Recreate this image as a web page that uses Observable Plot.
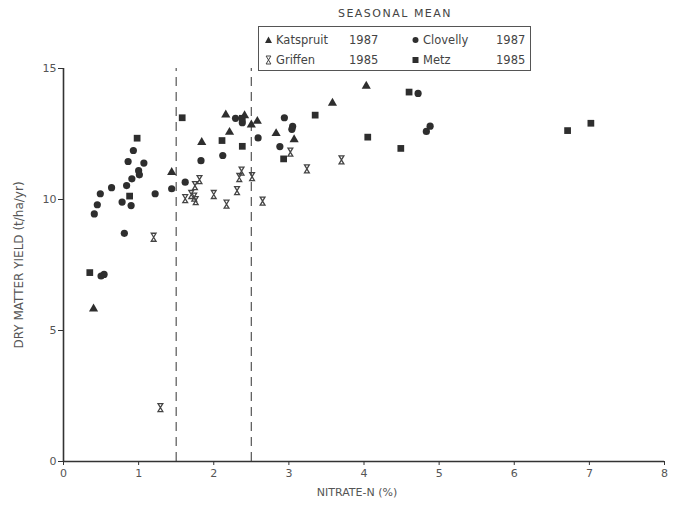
<!DOCTYPE html>
<html>
<head>
<meta charset="utf-8">
<script src="https://cdn.jsdelivr.net/npm/d3@7"></script>
<script src="https://cdn.jsdelivr.net/npm/@observablehq/plot@0.6"></script>
<style>
  html, body { margin: 0; padding: 0; background: #fff; }
  #wrap { position: relative; width: 678px; height: 509px; font-family: "DejaVu Sans", sans-serif; color: #333; }
  #title { position: absolute; left: 258px; width: 274px; top: 7px; text-align: center; font-size: 11px; letter-spacing: 1.5px; color: #444; }
  #legend { position: absolute; left: 258px; top: 26px; width: 271px; height: 43px; border: 1.3px solid #555; background: #fff; font-size: 11.5px; color: #444; }
  .item { position: absolute; display: flex; align-items: center; gap: 3px; white-space: nowrap; }
  .item svg { display: block; }
</style>
</head>
<body>
<div id="wrap">
  <div id="chart"></div>
  <div id="title">SEASONAL MEAN</div>
  <div id="legend"></div>
</div>
<script>
// ---- data ----
const katspruitX = [0.40, 1.44, 1.84, 2.16, 2.21, 2.41, 2.50, 2.58, 2.83, 3.07, 3.58, 4.03];
const katspruitY = [5.83, 11.04, 12.18, 13.23, 12.57, 13.20, 12.85, 12.99, 12.52, 12.29, 13.68, 14.33];

const clovellyX = [0.93, 0.86, 1.07, 1.00, 1.01, 0.91, 0.84, 0.64, 0.49, 1.22, 0.45, 0.78, 0.90, 0.41, 0.81, 0.50, 0.54, 1.62, 1.44, 1.83, 2.12, 2.29, 2.38, 2.59, 2.94, 3.05, 3.04, 2.88, 4.83, 4.88, 4.72];
const clovellyY = [11.87, 11.45, 11.39, 11.10, 10.94, 10.79, 10.53, 10.45, 10.22, 10.22, 9.80, 9.90, 9.77, 9.45, 8.71, 7.08, 7.14, 10.66, 10.41, 11.48, 11.68, 13.10, 12.93, 12.35, 13.12, 12.79, 12.68, 12.02, 12.60, 12.80, 14.05];

const griffenX = [1.20, 1.29, 1.62, 1.70, 1.74, 1.76, 1.75, 1.81, 2.00, 2.17, 2.31, 2.34, 2.37, 2.51, 2.65, 3.02, 3.24, 3.70];
const griffenY = [8.56, 2.06, 10.03, 10.19, 10.09, 9.96, 10.53, 10.76, 10.19, 9.82, 10.34, 10.84, 11.08, 10.87, 9.94, 11.81, 11.17, 11.51];

const metzX = [0.35, 0.98, 0.88, 1.58, 2.11, 2.38, 2.38, 2.93, 3.35, 4.05, 4.49, 4.60, 6.71, 7.02];
const metzY = [7.21, 12.34, 10.13, 13.12, 12.25, 12.03, 13.10, 11.55, 13.22, 12.38, 11.95, 14.10, 12.63, 12.91];

const thresholds = [1.5, 2.5];
const xTicks = [0, 1, 2, 3, 4, 5, 6, 7, 8];
const yTicks = [0, 5, 10, 15];
const legendLabels = [["Katspruit", "1987"], ["Clovelly", "1987"], ["Griffen", "1985"], ["Metz", "1985"]];

// ---- build table ----
const zip = (xs, ys, s) => xs.map((x, i) => ({x, y: ys[i], s}));
const pts = [
  ...zip(katspruitX, katspruitY, "Katspruit"),
  ...zip(clovellyX, clovellyY, "Clovelly"),
  ...zip(griffenX, griffenY, "Griffen"),
  ...zip(metzX, metzY, "Metz")
];

const hourglass = {
  draw(ctx, size) {
    const r = Math.sqrt(size / Math.PI);
    const w = r * 0.6, h = r;
    ctx.moveTo(-w, -h); ctx.lineTo(w, -h); ctx.lineTo(-w, h); ctx.lineTo(w, h); ctx.closePath();
  }
};

const ink = "#2e2e2e";
const chart = Plot.plot({
  width: 678, height: 509,
  marginLeft: 63, marginRight: 14, marginTop: 68, marginBottom: 48,
  style: {fontFamily: "DejaVu Sans, sans-serif", fontSize: "11px", color: "#555", background: "#fff"},
  x: {domain: [0, 8]},
  y: {domain: [0, 15]},
  marks: [
    Plot.ruleX(thresholds, {y1: 0, y2: 15, stroke: "#555", strokeWidth: 1.2, strokeDasharray: "9,6"}),
    Plot.ruleY([0], {x1: 0, x2: 8, stroke: "#333", strokeWidth: 1.6}),
    Plot.ruleX([0], {y1: 0, y2: 15, stroke: "#333", strokeWidth: 1.6}),
    Plot.axisX({ticks: xTicks, tickSize: 4, tickPadding: 4, tickFormat: d3.format("d"), label: null, stroke: "#333"}),
    Plot.axisY({ticks: yTicks, tickSize: 5, tickPadding: 2, tickFormat: d3.format("d"), label: null, stroke: "#333"}),
    Plot.text(["NITRATE-N (%)"], {frameAnchor: "bottom", dy: 34, dx: -7, fontSize: 11, fill: "#555", letterSpacing: 0.5}),
    Plot.text(["DRY MATTER YIELD (t/ha/yr)"], {frameAnchor: "left", dx: -44, rotate: -90, textAnchor: "middle", fontSize: 12, letterSpacing: 1, fill: "#555"}),
    Plot.dot(pts.filter(d => d.s === "Clovelly"), {x: "x", y: "y", r: 3.6, fill: ink, symbol: "circle"}),
    Plot.dot(pts.filter(d => d.s === "Metz"), {x: "x", y: "y", r: 3.8, fill: ink, symbol: "square"}),
    Plot.dot(pts.filter(d => d.s === "Katspruit"), {x: "x", y: "y", r: 3.4, fill: ink, symbol: "triangle"}),
    Plot.dot(pts.filter(d => d.s === "Griffen"), {x: "x", y: "y", r: 4, fill: "none", stroke: "#444", strokeWidth: 1.3, symbol: hourglass})
  ]
});
document.getElementById("chart").appendChild(chart);

// ---- legend ----
const symPaths = {
  Katspruit: "M0,-3.5L3.5,3L-3.5,3Z",
  Clovelly: "M3,0A3,3 0 1 1 -3,0A3,3 0 1 1 3,0Z",
  Griffen: "M-2.4,-4L2.4,-4L-2.4,4L2.4,4Z",
  Metz: "M-3,-3L3,-3L3,3L-3,3Z"
};
const pos = [[5, 6], [152, 6], [5, 26], [152, 26]];
const legend = document.getElementById("legend");
legendLabels.forEach(([name, year], i) => {
  const el = document.createElement("div");
  el.className = "item";
  el.style.left = pos[i][0] + "px";
  el.style.top = pos[i][1] + "px";
  const isG = name === "Griffen";
  el.innerHTML = `<svg width="9" height="10" viewBox="-4.5 -5 9 10"><path d="${symPaths[name]}" fill="${isG ? "none" : ink}" stroke="${isG ? "#444" : "none"}" stroke-width="1"/></svg>` +
    `<span style="display:inline-block;width:70px">${name}</span><span>${year}</span>`;
  legend.appendChild(el);
});
</script>
</body>
</html>
